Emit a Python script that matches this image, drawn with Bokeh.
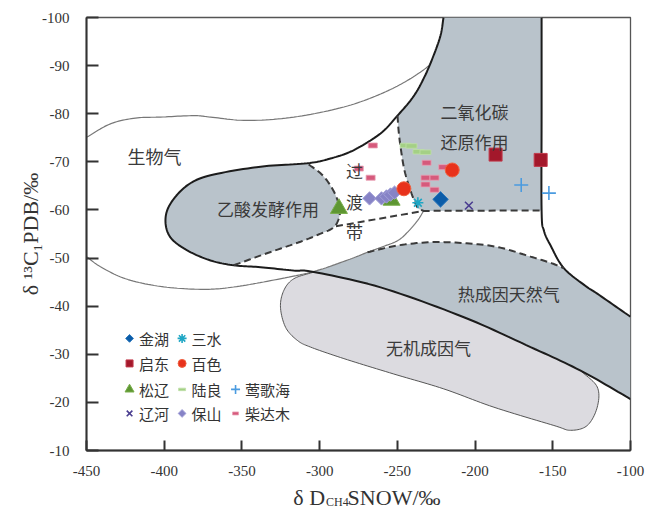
import numpy as np
from math import pi
from bokeh.plotting import figure
from bokeh.layouts import column
from bokeh.models import Range1d, FixedTicker, Plot, Text, ColumnDataSource
from bokeh.core.properties import value
from bokeh.embed import file_html
from bokeh.resources import INLINE

# ---------------- axes ----------------
x_ticks = [-450, -400, -350, -300, -250, -200, -150, -100]
y_ticks = [-100, -90, -80, -70, -60, -50, -40, -30, -20, -10]

# ---------------- samples (δD CH4, δ13C1) ----------------
jinhu_x = [-222.2]
jinhu_y = [-62.2]
sanshui_x = [-236.8]
sanshui_y = [-61.5]
qidong_x = [-186.8, -157.8]
qidong_y = [-71.5, -70.4]
baise_x = [-214.7, -245.8]
baise_y = [-68.3, -64.4]
songliao_x = [-287.6, -253.7]
songliao_y = [-60.3, -62.0]
luliang_x = [-244.7, -240.9, -236.4, -231.9]
luliang_y = [-73.4, -73.3, -72.1, -72.0]
yinggehai_x = [-170.3, -152.5]
yinggehai_y = [-65.2, -63.5]
liaohe_x = [-204.0]
liaohe_y = [-60.9]
baoshan_x = [-267.9, -260.2, -257.0, -254.4, -251.8]
baoshan_y = [-62.4, -62.4, -62.8, -63.2, -63.6]
chaidamu_x = [-265.8, -274.8, -267.2, -231.2, -220.5, -231.9, -226.1, -231.9, -226.1]
chaidamu_y = [-73.4, -68.6, -66.7, -69.8, -68.9, -66.7, -66.7, -65.3, -64.2]

# ---------------- field boundaries (data units) ----------------
outer_x = [-220.3, -222.2, -226.7, -232.5, -239.6, -249.9, -260.8, -278.2, -293.0, -308.0,
           -338.0, -370.2, -385.2, -396.0, -399.2, -396.0, -385.2, -370.2, -355.2,
           -338.0, -316.8, -303.7, -260.8, -207.2, -164.3, -132.1, -100.0]
outer_y = [-100.0, -96.3, -92.1, -87.7, -83.6, -79.6, -75.9, -72.4, -70.7, -69.7,
           -69.0, -67.2, -65.1, -61.3, -57.8, -54.3, -51.6, -49.5, -48.5,
           -48.1, -47.4, -47.1, -43.9, -37.7, -31.5, -26.6, -20.7]
upper_thin_x = [-450.0, -434.6, -418.5, -402.4, -381.0, -370.2, -346.6, -316.6, -284.4, -260.8, -243.6, -230.8, -228.0]
upper_thin_y = [-75.1, -77.9, -79.1, -79.3, -79.6, -79.3, -78.6, -79.3, -81.4, -84.1, -86.9, -89.7, -91.0]
lower_thin_x = [-450.0, -441.0, -424.9, -402.4, -376.6, -357.3, -331.6, -303.9, -282.0, -269.2,
                -260.8, -249.9, -243.4, -237.0, -233.1]
lower_thin_y = [-50.3, -48.2, -45.7, -44.1, -43.5, -43.9, -45.3, -47.2, -49.6, -51.2,
                -52.2, -53.6, -55.4, -57.8, -59.8]
co2_dash_x = [-249.9, -249.2, -247.9, -245.4, -241.5, -237.2, -233.1]
co2_dash_y = [-79.6, -76.5, -73.0, -68.2, -64.0, -60.6, -59.8]
acetate_dash_x = [-355.2, -334.8, -312.3, -300.7, -290.9, -287.2, -287.5, -291.1, -298.1, -308.0]
acetate_dash_y = [-48.5, -50.9, -53.4, -54.9, -56.4, -58.8, -60.9, -64.0, -67.2, -69.7]
transition_base_x = [-289.5, -233.1, -157.2]
transition_base_y = [-56.6, -59.8, -59.9]
thermo_dash_x = [-269.2, -250.1, -228.6, -207.2, -185.7, -164.3, -151.4, -142.9]
thermo_dash_y = [-51.2, -52.6, -53.3, -53.1, -52.3, -50.3, -49.0, -47.9]
right_bound_x = [-157.2, -157.2, -157.2, -155.7, -151.4, -142.9, -128.9, -121.4, -100.0]
right_bound_y = [-100.0, -80.0, -59.9, -55.7, -52.6, -47.9, -44.2, -42.6, -37.8]
abio_x = [-303.7, -316.6, -323.0, -325.2, -321.9, -314.4, -305.9, -284.4, -252.3, -220.1,
          -187.9, -149.3, -138.5, -127.8, -121.4, -121.4, -132.1]
abio_y = [-47.1, -45.7, -43.3, -39.8, -35.6, -32.9, -31.5, -29.1, -25.9, -22.8,
          -19.0, -15.2, -14.2, -15.2, -19.0, -23.2, -26.6]

N = 12


def smooth(xs, ys, n=N):
    pts = np.column_stack([xs, ys]).astype(float)
    P = np.vstack([2 * pts[0] - pts[1], pts, 2 * pts[-1] - pts[-2]])
    out = []
    for i in range(1, len(P) - 2):
        p0, p1, p2, p3 = P[i - 1], P[i], P[i + 1], P[i + 2]
        for t in np.linspace(0, 1, n, endpoint=False):
            t2, t3 = t * t, t * t * t
            out.append(0.5 * (2 * p1 + (-p0 + p2) * t + (2 * p0 - 5 * p1 + 4 * p2 - p3) * t2
                              + (-p0 + 3 * p1 - 3 * p2 + p3) * t3))
    out.append(pts[-1])
    out = np.array(out)
    return out[:, 0], out[:, 1]


def seg(d, i, j):
    return d[0][i * N:j * N + 1], d[1][i * N:j * N + 1]


A = smooth(outer_x, outer_y)
G = smooth(upper_thin_x, upper_thin_y)
F = smooth(lower_thin_x, lower_thin_y)
D = smooth(co2_dash_x, co2_dash_y)
B = smooth(acetate_dash_x, acetate_dash_y)
E = smooth(thermo_dash_x, thermo_dash_y)
R = smooth(right_bound_x, right_bound_y)
H = smooth(abio_x, abio_y)

W = 645
xr = Range1d(-450, -100)
p = figure(width=W, height=486, x_range=xr, y_range=Range1d(-10, -100),
           output_backend="svg", toolbar_location=None,
           min_border_left=86, min_border_right=W - 630, min_border_top=17, min_border_bottom=36)
p.background_fill_color = "white"
p.border_fill_color = "white"
p.grid.visible = False
p.outline_line_color = "#555555"
p.outline_line_width = 1.3

DARK = "#b9c3cb"
LIGHT = "#dcdbe0"

# abiogenic field
a_seg = seg(A, 21, 25)
p.patch(np.concatenate([H[0], a_seg[0][::-1]]), np.concatenate([H[1], a_seg[1][::-1]]),
        fill_color=LIGHT, line_color=None)
# thermogenic field
f_seg = seg(F, 7, 9)
r_seg = (R[0][5 * N:], R[1][5 * N:])
a_seg2 = seg(A, 21, 26)
p.patch(np.concatenate([f_seg[0], E[0], r_seg[0], a_seg2[0][::-1]]),
        np.concatenate([f_seg[1], E[1], r_seg[1], a_seg2[1][::-1]]),
        fill_color=DARK, line_color=None)
# CO2 reduction field
a_seg3 = seg(A, 0, 5)
p.patch(np.concatenate([a_seg3[0], D[0], [right_bound_x[2], right_bound_x[0]]]),
        np.concatenate([a_seg3[1], D[1], [right_bound_y[2], right_bound_y[0]]]),
        fill_color=DARK, line_color=None)
# acetate fermentation field
a_seg4 = seg(A, 9, 18)
p.patch(np.concatenate([a_seg4[0], B[0]]), np.concatenate([a_seg4[1], B[1]]),
        fill_color=DARK, line_color=None)

# thin lines
p.line(G[0], G[1], line_color="#777777", line_width=1.2)
p.line(F[0], F[1], line_color="#777777", line_width=1.2)
p.line(H[0], H[1], line_color="#555555", line_width=1.0)
# thick lines
p.line(A[0], A[1], line_color="#1c1c1c", line_width=2)
p.line(R[0], R[1], line_color="#1c1c1c", line_width=2)
# dashed lines
for d in (D, B, E, (transition_base_x, transition_base_y)):
    p.line(d[0], d[1], line_color="#3a3a3a", line_width=2, line_dash="7 4")

# ---------------- markers ----------------
series = [
    dict(name="柴达木", x=chaidamu_x, y=chaidamu_y, kind="rect", color="#d65a7c", edge="#e9a0b4",
         size=(9, 5), lsize=(6, 3), slot=(3, 2)),
    dict(name="陆良", x=luliang_x, y=luliang_y, kind="rect", color="#a4d085", edge="#bfe0a8",
         size=(11, 4.5), lsize=(7, 2.5), slot=(2, 1)),
    dict(name="松辽", x=songliao_x, y=songliao_y, kind="triangle", color="#5e9632", edge="#78ad4a",
         size=17, lsize=9, slot=(2, 0)),
    dict(name="保山", x=baoshan_x, y=baoshan_y, kind="diamond", color="#8683c6", edge="#a3a1d8",
         size=9.5, lsize=5.5, slot=(3, 1)),
    dict(name="百色", x=baise_x, y=baise_y, kind="circle", color="#e8321c", edge="#f0603f",
         size=14, lsize=8, slot=(1, 1)),
    dict(name="金湖", x=jinhu_x, y=jinhu_y, kind="diamond", color="#0b5ca8", edge="#2c78bd",
         size=11, lsize=5.5, slot=(0, 0)),
    dict(name="三水", x=sanshui_x, y=sanshui_y, kind="asterisk", color="#1ea6c4", edge="#1ea6c4",
         size=11, lsize=9, slot=(0, 1)),
    dict(name="启东", x=qidong_x, y=qidong_y, kind="square", color="#a3182b", edge="#c23a4b",
         size=13, lsize=7, slot=(1, 0)),
    dict(name="莺歌海", x=yinggehai_x, y=yinggehai_y, kind="cross", color="#4a9be0", edge="#4a9be0",
         size=14, lsize=9, slot=(2, 2)),
    dict(name="辽河", x=liaohe_x, y=liaohe_y, kind="x", color="#4a3d90", edge="#4a3d90",
         size=11, lsize=8, slot=(3, 0)),
]

legend_rows_y = [-33.3, -28.1, -22.7, -17.7]
legend_cols_x = [-422.3, -388.5, -354.1]
legend_text_dx = 6.1


def draw(kind, xs, ys, color, edge, size):
    if kind == "rect":
        p.rect(xs, ys, width=size[0], height=size[1], width_units="screen", height_units="screen",
               fill_color=color, line_color=edge, line_width=0.8)
    elif kind == "diamond":
        p.scatter(xs, ys, marker="square", angle=pi / 4, size=size, fill_color=color,
                  line_color=edge, line_width=1)
    elif kind in ("asterisk", "cross", "x"):
        p.scatter(xs, ys, marker=kind, size=size, line_color=color, line_width=1.6)
    else:
        p.scatter(xs, ys, marker=kind, size=size, fill_color=color, line_color=edge, line_width=1)


for s in series:
    draw(s["kind"], s["x"], s["y"], s["color"], s["edge"], s["size"])

# legend
for s in series:
    r, c = s["slot"]
    lx, ly = legend_cols_x[c], legend_rows_y[r]
    draw(s["kind"], [lx], [ly], s["color"], s["edge"], s["lsize"])
    p.text([lx + legend_text_dx], [ly], text=[s["name"]], text_font=value("Noto Sans CJK SC"),
           text_font_size=value("15px"), text_color="#333333", text_baseline="middle",
           text_align="left")

# ---------------- field labels ----------------
field_names = ["生物气", "乙酸发酵作用", "过\n渡\n带", "二氧化碳\n还原作用", "热成因天然气", "无机成因气"]
field_x = [-406.2, -333.2, -277.5, -200.3, -178.4, -229.9]
field_y = [-71.3, -60.3, -61.8, -77.3, -42.6, -31.5]
field_size = ["18px", "17px", "17px", "17px", "17px", "17px"]
for t, fx, fy, fs in zip(field_names, field_x, field_y, field_size):
    p.text([fx], [fy], text=[t], text_font=value("Noto Sans CJK SC"), text_font_size=value(fs),
           text_color="#3a3a3a", text_align="center", text_baseline="middle",
           text_line_height=1.22)

# ---------------- axes ----------------
for ax, ticks, standoff, tick_in in ((p.xaxis, x_ticks, 15, 10), (p.yaxis, y_ticks, 17, 12)):
    ax.ticker = FixedTicker(ticks=ticks)
    ax.major_label_overrides = {t: str(t) for t in ticks}
    ax.major_tick_in = tick_in
    ax.major_tick_out = 0
    ax.minor_tick_in = 0
    ax.minor_tick_out = 0
    ax.axis_line_width = 2
    ax.axis_line_color = "#333333"
    ax.major_tick_line_width = 2
    ax.major_tick_line_color = "#333333"
    ax.major_label_text_font = "Liberation Serif"
    ax.major_label_text_font_size = "15px"
    ax.major_label_text_color = "#333333"
    ax.major_label_standoff = standoff

p.yaxis.axis_label = "δ ¹³C₁PDB/‰"
p.yaxis.axis_label_text_font = "Liberation Serif"
p.yaxis.axis_label_text_font_size = "22px"
p.yaxis.axis_label_text_font_style = "normal"
p.yaxis.axis_label_text_color = "#333333"
p.yaxis.axis_label_standoff = -4

# ---------------- x-axis title strip (with subscript), same x scale as the chart ----------------
q = Plot(width=W, height=25, x_range=xr, y_range=Range1d(0, 25), title=None,
         min_border_left=86, min_border_right=W - 630, min_border_top=0, min_border_bottom=0,
         toolbar_location=None, outline_line_color=None, output_backend="svg",
         background_fill_color="white", border_fill_color="white")
title_parts = ["δ D", "CH4", "SNOW/‰"]
title_x = [-296.5, -295.9, -282.0]
title_y = [14, 10, 14]
title_align = ["right", "left", "left"]
title_size = ["22px", "12px", "22px"]
for t, tx, ty, ta, ts in zip(title_parts, title_x, title_y, title_align, title_size):
    src = ColumnDataSource(dict(x=[tx], y=[ty], text=[t]))
    q.add_glyph(src, Text(x="x", y="y", text="text", text_font=value("Liberation Serif"),
                          text_font_size=value(ts), text_color="#333333",
                          text_align=ta, text_baseline="alphabetic"))

layout = column(p, q, spacing=0)
open("out.html", "w").write(file_html(layout, INLINE))
